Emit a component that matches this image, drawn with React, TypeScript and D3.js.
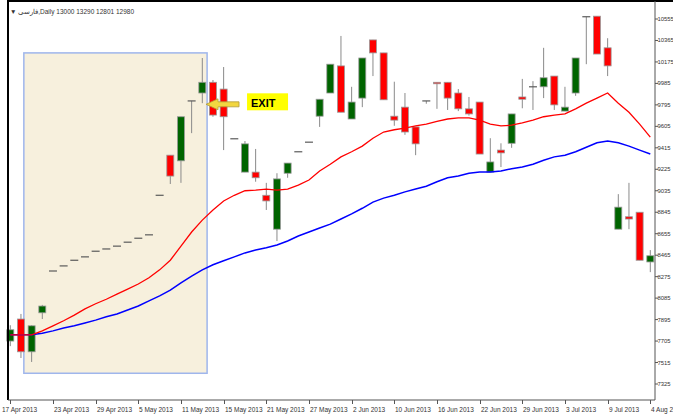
import React from "react";
import * as d3 from "d3";

const W = 673;
const H = 420;

const dateLabels = ["17 Apr 2013", "23 Apr 2013", "29 Apr 2013", "5 May 2013", "11 May 2013", "15 May 2013", "21 May 2013", "27 May 2013", "2 Jun 2013", "10 Jun 2013", "16 Jun 2013", "22 Jun 2013", "29 Jun 2013", "3 Jul 2013", "9 Jul 2013", "4 Aug 2013"];
const priceTicks = [10555, 10365, 10175, 9985, 9795, 9605, 9415, 9225, 9035, 8845, 8655, 8465, 8275, 8085, 7895, 7705, 7515, 7325];

const opens = [7705, 7900, 7610, 7955, 8325, 8370, 8420, 8450, 8500, 8520, 8545, 8580, 8615, 8645, 8995, 9350, 9300, 9830, 9900, 9995, 9935, 9495, 9200, 9200, 8995, 8695, 9190, 9380, 9465, 9695, 9900, 10140, 9670, 9855, 10370, 10255, 9695, 9775, 9600, 9830, 9995, 9995, 9900, 9760, 9820, 9200, 9395, 9455, 9865, 9955, 9955, 10050, 9740, 9900, 10575, 10580, 10300, 8695, 8805, 8845, 8405];
const highs = [7845, 7945, 7845, 8025, 8325, 8370, 8420, 8450, 8500, 8520, 8545, 8580, 8615, 8645, 8995, 9350, 9690, 9830, 10210, 10015, 10130, 9495, 9475, 9405, 9105, 9190, 9280, 9380, 9465, 9845, 10155, 10405, 9955, 10210, 10370, 10255, 10000, 9900, 9600, 9830, 9995, 9995, 9935, 9865, 9820, 9500, 9455, 9715, 10025, 10005, 10300, 10050, 9955, 10210, 10575, 10580, 10385, 9005, 9105, 8845, 8510];
const lows = [7660, 7555, 7520, 7900, 8325, 8370, 8420, 8450, 8500, 8520, 8545, 8580, 8615, 8645, 8995, 9095, 9105, 9545, 9810, 9690, 9395, 9495, 9200, 9115, 8865, 8590, 9150, 9380, 9465, 9600, 9900, 9730, 9670, 9775, 10050, 9840, 9610, 9530, 9350, 9805, 9760, 9750, 9740, 9700, 9360, 9200, 9245, 9415, 9765, 9750, 9855, 9750, 9740, 9875, 10155, 10245, 10050, 8695, 8695, 8420, 8315];
const closes = [7805, 7610, 7840, 8015, 8325, 8370, 8420, 8450, 8500, 8520, 8545, 8580, 8615, 8645, 8995, 9165, 9690, 9830, 9995, 9705, 9690, 9495, 9450, 9150, 8945, 9140, 9280, 9380, 9465, 9845, 10155, 9730, 9820, 10210, 10255, 9840, 9660, 9555, 9450, 9830, 9985, 9855, 9760, 9715, 9360, 9290, 9370, 9715, 9845, 9955, 10035, 9795, 9775, 10210, 10575, 10245, 10140, 8890, 8785, 8420, 8460];

const maFast = [7760, 7760, 7760, 7795, 7840, 7885, 7935, 7990, 8035, 8075, 8120, 8165, 8210, 8265, 8335, 8420, 8545, 8670, 8775, 8865, 8945, 8995, 9035, 9040, 9050, 9040, 9050, 9085, 9130, 9210, 9270, 9335, 9380, 9430, 9500, 9555, 9575, 9590, 9610, 9625, 9650, 9670, 9680, 9680, 9660, 9625, 9610, 9615, 9635, 9660, 9690, 9705, 9715, 9760, 9810, 9855, 9900, 9810, 9730, 9625, 9510];
const maSlow = [7760, 7760, 7760, 7775, 7795, 7820, 7840, 7865, 7890, 7920, 7945, 7980, 8015, 8060, 8105, 8155, 8220, 8280, 8335, 8380, 8415, 8450, 8485, 8510, 8530, 8555, 8590, 8635, 8670, 8705, 8740, 8785, 8830, 8880, 8935, 8970, 8995, 9025, 9050, 9075, 9115, 9150, 9165, 9190, 9200, 9200, 9210, 9230, 9245, 9270, 9305, 9335, 9350, 9380, 9420, 9460, 9475, 9460, 9430, 9395, 9360];

const headerText = "▼ فارسی,Daily  13000 13290 12801 12980";
const exitText = "EXIT";
// shaded zone: bar index range and price range
const zoneBars = [1.27, 18.45];
const zonePrices = [10255, 7420];
const exitBar = 18.35;
const exitPrice = 9800;

export default function App() {
  const plotLeft = 8;
  const plotRight = 655;
  const plotTop = 1;
  const plotBottom = 400;

  const x = d3.scaleLinear().domain([0, opens.length - 1]).range([10.3, 650.3]);
  const y = d3.scaleLinear().domain([7325, 10555]).range([384, 19]);

  const line = (vals: number[]) =>
    d3.line<number>().x((_, i) => x(i)).y((v) => y(v))(vals) || "";

  const bw = 7;
  const font = "'Liberation Sans', Arial, sans-serif";

  const ax = x(exitBar);
  const ay = y(exitPrice);

  return (
    <div style={{ position: "fixed", left: 0, top: 0, width: W, height: H, background: "#fff" }}>
      <svg width={W} height={H} style={{ display: "block" }}>
        <rect x={0} y={0} width={W} height={H} fill="#fff" />
        {/* shaded zone */}
        <rect
          x={x(zoneBars[0])}
          y={y(zonePrices[0])}
          width={x(zoneBars[1]) - x(zoneBars[0])}
          height={y(zonePrices[1]) - y(zonePrices[0])}
          fill="#f7f0dd"
          stroke="#9fb6ec"
          strokeWidth={1.5}
        />
        {/* candles */}
        {opens.map((o, i) => {
          const c = closes[i];
          const cx = x(i);
          const hi = y(highs[i]);
          const lo = y(lows[i]);
          const doji = o === c;
          const up = c > o;
          const top = y(Math.max(o, c));
          const bot = y(Math.min(o, c));
          return (
            <g key={i}>
              {hi !== lo && (
                <line x1={cx} x2={cx} y1={hi} y2={lo} stroke="#8a8a8a" strokeWidth={1} />
              )}
              {doji ? (
                <line x1={cx - 4} x2={cx + 4} y1={top} y2={top} stroke="#5a5a5a" strokeWidth={1.2} />
              ) : (
                <rect
                  x={cx - bw / 2}
                  y={top}
                  width={bw}
                  height={Math.max(1.5, bot - top)}
                  fill={up ? "#006400" : "#ff0000"}
                  stroke="#9a9a9a"
                  strokeWidth={0.8}
                />
              )}
            </g>
          );
        })}
        {/* moving averages */}
        <path d={line(maSlow)} fill="none" stroke="#0000ff" strokeWidth={1.5} />
        <path d={line(maFast)} fill="none" stroke="#ff0000" strokeWidth={1.3} />
        {/* exit arrow */}
        <path
          d={`M${ax},${ay} L${ax + 12},${ay - 5.5} L${ax + 12},${ay - 2.5} L${ax + 33},${ay - 2.5} L${ax + 33},${ay + 2.5} L${ax + 12},${ay + 2.5} L${ax + 12},${ay + 5.5} Z`}
          fill="#f2d640"
          stroke="#b09a3a"
          strokeWidth={0.8}
        />
        <rect x={ax + 41} y={ay - 11} width={41} height={17} fill="#ffff00" />
        <text x={ax + 45} y={ay + 2.5} fontFamily={font} fontWeight="bold" fontSize={11} fill="#000">
          {exitText}
        </text>
        {/* frame */}
        <line x1={plotLeft} x2={plotLeft} y1={0} y2={plotBottom} stroke="#000" strokeWidth={2} />
        <line x1={plotLeft} x2={W} y1={plotTop} y2={plotTop} stroke="#000" strokeWidth={2} />
        <line x1={plotRight} x2={plotRight} y1={plotTop} y2={plotBottom} stroke="#555" strokeWidth={1} />
        <line x1={plotLeft} x2={plotRight} y1={plotBottom} y2={plotBottom} stroke="#555" strokeWidth={1} />
        {/* y axis */}
        {priceTicks.map((p) => (
          <g key={p}>
            <line x1={plotRight} x2={plotRight + 3} y1={y(p)} y2={y(p)} stroke="#555" />
            <text x={plotRight + 2.5} y={y(p) + 2} fontFamily={font} fontSize={5.9} fill="#333">
              {p}
            </text>
          </g>
        ))}
        {/* x axis */}
        {dateLabels.map((d, k) => {
          const xx = Math.round(x(k * 4)) + 0.5;
          const tx = k === 0 ? 2 : xx + 0.5;
          return (
            <g key={d}>
              <line x1={xx} x2={xx} y1={plotBottom} y2={plotBottom + 4} stroke="#555" />
              <text x={tx} y={plotBottom + 12} fontFamily={font} fontSize={6.5} fill="#333">
                {d}
              </text>
            </g>
          );
        })}
        <text x={10} y={14} fontFamily={font} fontSize={6.5} fill="#333">
          {headerText}
        </text>
      </svg>
    </div>
  );
}
